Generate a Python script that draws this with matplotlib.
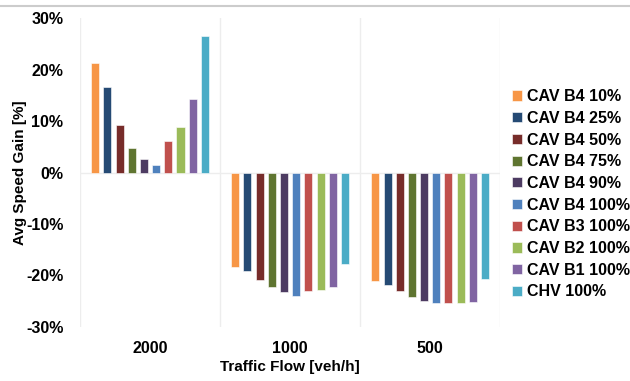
import numpy as np
import matplotlib.pyplot as plt
from matplotlib.lines import Line2D
from matplotlib.ticker import FuncFormatter

plt.rcParams['font.family'] = ['Liberation Sans', 'DejaVu Sans']
plt.rcParams['font.weight'] = 'bold'

flows = ['2000', '1000', '500']
series = ['CAV B4 10%', 'CAV B4 25%', 'CAV B4 50%', 'CAV B4 75%', 'CAV B4 90%',
          'CAV B4 100%', 'CAV B3 100%', 'CAV B2 100%', 'CAV B1 100%', 'CHV 100%']
colors = ['#F79646', '#254A74', '#772C2A', '#5F7530', '#4D3B62',
          '#4F81BD', '#C0504D', '#9BBB59', '#8064A2', '#4BACC6']

# speed gain [%] per series, for flows 2000, 1000, 500
gains = [
    [21.3, -18.3, -21.1],
    [16.6, -19.2, -21.8],
    [9.2, -20.8, -23.1],
    [4.8, -22.3, -24.1],
    [2.7, -23.3, -25.0],
    [1.5, -24.0, -25.4],
    [6.1, -23.1, -25.3],
    [8.8, -22.9, -25.3],
    [14.4, -22.2, -25.2],
    [26.6, -17.7, -20.6],
]

fig = plt.figure(figsize=(6.3, 3.81), dpi=100)
ax = fig.add_axes([0.127, 0.142, 0.667, 0.81])

x = np.arange(len(flows))
n = len(series)
slot = 0.087
bw = slot * 0.66
for i, (name, vals) in enumerate(zip(series, gains)):
    ax.bar(x + (i - (n - 1) / 2) * slot, vals, bw, color=colors[i], label=name,
           edgecolor='white', linewidth=0.4, zorder=3)

ax.set_xlim(-0.5, 2.5)
ax.set_ylim(-30, 30)
ax.set_yticks(np.arange(-30, 31, 10))
ax.yaxis.set_major_formatter(FuncFormatter(lambda v, p: '%d%%' % v))
ax.set_xticks(x)
ax.set_xticklabels(flows)
ax.set_xticks([-0.5, 0.5, 1.5, 2.5], minor=True)
ax.grid(True, which='minor', axis='x', color='#EDEDED', linewidth=1, zorder=0)
ax.axhline(0, color='#EDEDED', linewidth=1, zorder=1)
ax.tick_params(which='both', length=0, labelsize=11.5)
ax.tick_params(axis='x', pad=10)
ax.tick_params(axis='y', pad=12)
for s in ax.spines.values():
    s.set_visible(False)

ax.set_ylabel('Avg Speed Gain [%]', fontsize=11, fontweight='bold', labelpad=-1)
ax.set_xlabel('Traffic Flow [veh/h]', fontsize=11, fontweight='bold', labelpad=3)

fig.legend(loc='center left', bbox_to_anchor=(0.79, 0.49), frameon=False,
           fontsize=11.5, handlelength=0.6, handleheight=0.6, handletextpad=0.35,
           labelspacing=0.42)

fig.add_artist(Line2D([0, 1], [0.985, 0.985], color='#CCCCCC', linewidth=1.5))

fig.savefig('out.png', dpi=100)
